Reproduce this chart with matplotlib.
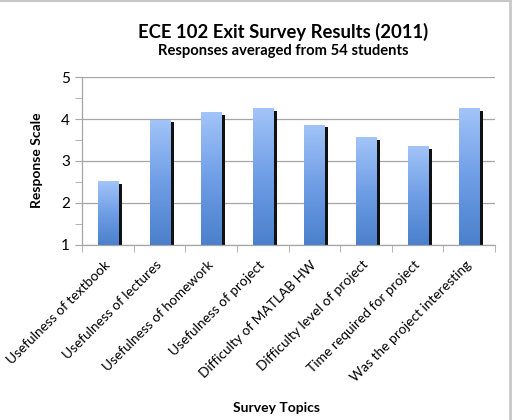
import matplotlib
matplotlib.use("Agg")
import matplotlib.pyplot as plt
import numpy as np
from matplotlib.colors import LinearSegmentedColormap
from matplotlib.lines import Line2D

categories = ["Usefulness of textbook", "Usefulness of lectures", "Usefulness of homework",
              "Usefulness of project", "Difficulty of MATLAB HW", "Difficulty level of project",
              "Time required for project", "Was the project interesting"]
values = [2.52, 3.99, 4.17, 4.27, 3.87, 3.57, 3.35, 4.27]
yticks = [1, 2, 3, 4, 5]

plt.rcParams['font.family'] = ['Lato', 'DejaVu Sans']

fig = plt.figure(figsize=(5.14, 4.2), dpi=100)
ax = fig.add_axes([0.160, 0.4174, 0.803, 0.3986])

x = np.arange(len(categories))
w = 0.39

cmap = LinearSegmentedColormap.from_list("g", ["#4a80cc", "#6f9ee6", "#a2c4f8"])
grad = np.linspace(0, 1, 256).reshape(-1, 1)

# shadows
ax.bar(x + 0.075, [v - 0.065 - 1 for v in values], w, bottom=1, color="#111111", zorder=2)
bars = ax.bar(x, [v - 1 for v in values], w, bottom=1, color="none", zorder=3)
for b in bars:
    x0, y0 = b.get_x(), b.get_y()
    im = ax.imshow(grad, cmap=cmap, extent=[x0, x0 + b.get_width(), y0, y0 + b.get_height()],
                   origin="lower", aspect="auto", zorder=3)
    im.set_clip_path(b)
ax.set_xlim(-0.5, len(categories) - 0.5)
ax.set_ylim(1, 5)
ax.set_aspect("auto")

ax.set_yticks(yticks)
ax.set_yticks(np.arange(1.5, 5, 1), minor=True)
ax.yaxis.grid(True, color="#a6a6a6", linewidth=0.9, zorder=0)
ax.set_axisbelow(True)
ax.tick_params(axis="y", which="both", direction="out", length=5, color="#a6a6a6", labelsize=11, pad=4)
ax.set_xticks(np.arange(-0.5, len(categories)), minor=True)
ax.set_xticks(x)
ax.set_xticklabels([])
ax.tick_params(axis="x", which="major", length=0)
ax.tick_params(axis="x", which="minor", direction="out", length=5, color="#a6a6a6")
for s in ["top", "right"]:
    ax.spines[s].set_visible(False)
for s in ["left", "bottom"]:
    ax.spines[s].set_color("#a6a6a6")
    ax.spines[s].set_linewidth(0.9)

for i, lab in enumerate(categories):
    ax.annotate(lab, xy=(i, 1), xycoords="data", xytext=(-3, -10), textcoords="offset points",
                rotation=45, ha="right", va="top", rotation_mode="anchor", fontsize=9.9)

fig.text(0.072, 0.619, "Response Scale", rotation=90, ha="center", va="center",
         fontsize=10, fontweight="bold")
fig.text(0.537, 0.028, "Survey Topics", ha="center", va="center", fontsize=10, fontweight="bold")
fig.text(0.551, 0.924, "ECE 102 Exit Survey Results (2011)", ha="center", va="center",
         fontsize=13.3, fontweight="bold")
fig.text(0.551, 0.878, "Responses averaged from 54 students", ha="center", va="center",
         fontsize=10.6, fontweight="bold")

fig.add_artist(Line2D([0, 0.994], [0.998, 0.998], transform=fig.transFigure, color="#c8c8c8", lw=1.5))
fig.add_artist(Line2D([0.993, 0.993], [0, 0.998], transform=fig.transFigure, color="#c8c8c8", lw=2))

fig.savefig("out.png", dpi=100)
